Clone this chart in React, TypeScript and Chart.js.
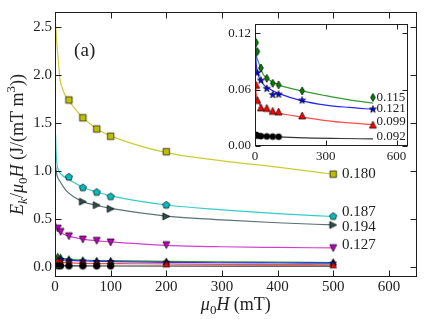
import React, { useEffect, useRef } from 'react';
import { Chart, registerables } from 'chart.js';

Chart.register(...registerables);

const FONT = '"Liberation Serif", "DejaVu Serif", serif';
const TEXT = '#222';

// ---------- main axes ----------
const mainXTicks = [0, 100, 200, 300, 400, 500, 600];
const mainYTicks = [0, 0.5, 1.0, 1.5, 2.0, 2.5];

const yellowX = [25, 50, 75, 100, 200, 500];
const yellowY = [1.739, 1.553, 1.437, 1.361, 1.2, 0.966];
const yellowFitX = [1.5, 3, 6, 9, 12, 18, 25, 50, 75, 100, 200, 300, 400, 500];
const yellowFitY = [2.5, 2.35, 2.15, 1.95, 1.88, 1.79, 1.73, 1.555, 1.44, 1.365, 1.19, 1.105, 1.04, 0.965];

const cyanX = [25, 50, 75, 100, 200, 500];
const cyanY = [0.935, 0.825, 0.777, 0.732, 0.643, 0.526];
const cyanFitX = [1, 2, 3, 6, 12, 25, 50, 75, 100, 200, 300, 400, 500];
const cyanFitY = [1.38, 1.2, 1.1, 1.01, 0.96, 0.91, 0.83, 0.78, 0.74, 0.645, 0.595, 0.555, 0.525];

const slateX = [50, 75, 100, 200, 500];
const slateY = [0.68, 0.643, 0.605, 0.526, 0.437];
const slateFitX = [1, 3, 5, 9, 21, 50, 75, 100, 200, 300, 400, 500];
const slateFitY = [1.05, 0.97, 0.93, 0.89, 0.79, 0.68, 0.64, 0.61, 0.53, 0.49, 0.46, 0.437];

const magentaX = [5, 10, 25, 50, 75, 100, 200, 500];
const magentaY = [0.4, 0.365, 0.32, 0.285, 0.272, 0.255, 0.227, 0.196];
const magentaFitX = [0.5, 3, 5, 10, 25, 50, 100, 200, 300, 400, 500];
const magentaFitY = [0.47, 0.42, 0.395, 0.36, 0.32, 0.29, 0.26, 0.225, 0.21, 0.203, 0.198];

const mainLabels = ['0.180', '0.187', '0.194', '0.127'];
const mainLabelY = [0.966, 0.574, 0.412, 0.224];
const labelAtX = 500;

// ---------- small series (inset and bottom of main) ----------
const insetXTicks = [0, 300, 600];
const insetYTicks = [0, 0.06, 0.12];

const greenX = [5, 10, 25, 50, 75, 100, 200, 500];
const greenY = [0.11, 0.1005, 0.083, 0.072, 0.0667, 0.065, 0.0586, 0.0516];
const greenFitX = [2, 5, 14, 35, 50, 100, 200, 300, 400, 500];
const greenFitY = [0.118, 0.1, 0.09, 0.076, 0.072, 0.065, 0.0586, 0.0535, 0.049, 0.0457];

const blueX = [10, 25, 50, 75, 100, 200, 500];
const blueY = [0.0778, 0.0698, 0.061, 0.0545, 0.0548, 0.0485, 0.039];
const blueFitX = [2, 5, 10, 35, 64, 100, 200, 300, 400, 500];
const blueFitY = [0.108, 0.088, 0.079, 0.0657, 0.0604, 0.056, 0.048, 0.0435, 0.041, 0.039];

const redX = [5, 10, 25, 50, 75, 100, 200, 500];
const redY = [0.065, 0.049, 0.041, 0.0405, 0.0374, 0.0367, 0.0325, 0.0227];
const redFitX = [2, 5, 10, 35, 120, 200, 300, 400, 500];
const redFitY = [0.068, 0.056, 0.05, 0.0395, 0.034, 0.0307, 0.027, 0.0245, 0.0227];

const blackX = [5, 10, 25, 50, 75, 100];
const blackY = [0.0118, 0.011, 0.0105, 0.0102, 0.01, 0.0099];
const blackFitX = [2, 100, 500];
const blackFitY = [0.012, 0.0097, 0.0075];

const insetLabels = ['0.115', '0.121', '0.099', '0.092'];
const insetLabelY = [0.0512, 0.0401, 0.0265, 0.0105];

type Shape = 'square' | 'circle' | 'pentagon' | 'triRight' | 'triDown' | 'triUp' | 'star' | 'thinDiamond';

function makeMarker(shape: Shape, fill: string, size: number): HTMLCanvasElement {
  const d = Math.ceil(size + 4);
  const c = document.createElement('canvas');
  c.width = d;
  c.height = d;
  const ctx = c.getContext('2d')!;
  const cx = d / 2, cy = d / 2, r = size / 2;
  const poly = (pts: number[][]) => {
    pts.forEach((p, i) => (i ? ctx.lineTo(cx + p[0], cy + p[1]) : ctx.moveTo(cx + p[0], cy + p[1])));
  };
  ctx.beginPath();
  if (shape === 'square') ctx.rect(cx - r, cy - r, 2 * r, 2 * r);
  else if (shape === 'circle') ctx.arc(cx, cy, r, 0, Math.PI * 2);
  else if (shape === 'pentagon') {
    const pts: number[][] = [];
    for (let i = 0; i < 5; i++) {
      const a = -Math.PI / 2 + (i * 2 * Math.PI) / 5;
      pts.push([r * Math.cos(a), r * Math.sin(a)]);
    }
    poly(pts);
  } else if (shape === 'star') {
    const pts: number[][] = [];
    for (let i = 0; i < 10; i++) {
      const a = -Math.PI / 2 + (i * Math.PI) / 5;
      const rr = i % 2 ? r * 0.4 : r;
      pts.push([rr * Math.cos(a), rr * Math.sin(a)]);
    }
    poly(pts);
  } else if (shape === 'triUp') poly([[0, -r], [r, r], [-r, r]]);
  else if (shape === 'triDown') poly([[0, r], [-r, -r], [r, -r]]);
  else if (shape === 'triRight') poly([[r, 0], [-r, r], [-r, -r]]);
  else if (shape === 'thinDiamond') poly([[0, -r], [r * 0.6, 0], [0, r], [-r * 0.6, 0]]);
  ctx.closePath();
  ctx.fillStyle = fill;
  ctx.fill();
  ctx.lineWidth = 0.7;
  ctx.strokeStyle = '#000';
  ctx.stroke();
  return c;
}

function pts(xs: number[], ys: number[]) {
  return xs.map((x, i) => ({ x, y: ys[i] }));
}

function fitDs(xs: number[], ys: number[], color: string) {
  return {
    type: 'line' as const,
    data: pts(xs, ys),
    borderColor: color,
    borderWidth: 1.2,
    pointRadius: 0,
    cubicInterpolationMode: 'monotone' as const,
    fill: false,
    order: 2,
  };
}

function markDs(xs: number[], ys: number[], marker: HTMLCanvasElement) {
  return {
    type: 'line' as const,
    data: pts(xs, ys),
    showLine: false,
    pointStyle: marker as any,
    pointRadius: 3,
    order: 1,
  };
}

type Seg = { t: string; it?: boolean; pos?: 'sub' | 'sup' };

function drawRich(ctx: CanvasRenderingContext2D, segs: Seg[], size: number, cx: number, base: number) {
  const fontFor = (s: Seg) => `${s.it ? 'italic ' : ''}${s.pos ? Math.round(size * 0.7) : size}px ${FONT}`;
  let total = 0;
  for (const s of segs) {
    ctx.font = fontFor(s);
    total += ctx.measureText(s.t).width;
  }
  let x = cx - total / 2;
  ctx.textAlign = 'left';
  ctx.textBaseline = 'alphabetic';
  for (const s of segs) {
    ctx.font = fontFor(s);
    const dy = s.pos === 'sub' ? size * 0.25 : s.pos === 'sup' ? -size * 0.4 : 0;
    ctx.fillText(s.t, x, base + dy);
    x += ctx.measureText(s.t).width;
  }
}

function frameTicksPlugin(id: string, len: number, fillWhite: boolean) {
  return {
    id,
    beforeDatasetsDraw(chart: any) {
      if (!fillWhite) return;
      const a = chart.chartArea;
      const ctx = chart.ctx;
      ctx.save();
      ctx.fillStyle = '#fff';
      ctx.fillRect(a.left, a.top, a.right - a.left, a.bottom - a.top);
      ctx.restore();
    },
    afterDatasetsDraw(chart: any) {
      const a = chart.chartArea;
      const ctx = chart.ctx;
      const L = Math.round(a.left) + 0.5, R = Math.round(a.right) - 0.5;
      const T = Math.round(a.top) + 0.5, B = Math.round(a.bottom) - 0.5;
      ctx.save();
      ctx.strokeStyle = '#1e1e1e';
      ctx.lineWidth = 1;
      ctx.beginPath();
      const xs = chart.scales.x;
      for (const t of xs.ticks) {
        const p = Math.round(xs.getPixelForValue(t.value)) + 0.5;
        ctx.moveTo(p, B); ctx.lineTo(p, B - len);
        ctx.moveTo(p, T); ctx.lineTo(p, T + len);
      }
      const ys = chart.scales.y;
      for (const t of ys.ticks) {
        const p = Math.round(ys.getPixelForValue(t.value)) + 0.5;
        ctx.moveTo(L, p); ctx.lineTo(L + len, p);
        ctx.moveTo(R, p); ctx.lineTo(R - len, p);
      }
      ctx.stroke();
      ctx.strokeRect(L, T, R - L, B - T);
      ctx.restore();
    },
  };
}

function labelPlugin(id: string, texts: string[], ys: number[], dx: number, size: number) {
  return {
    id,
    afterDraw(chart: any) {
      const ctx = chart.ctx;
      const xs = chart.scales.x, yS = chart.scales.y;
      ctx.save();
      ctx.fillStyle = TEXT;
      ctx.font = `${size}px ${FONT}`;
      ctx.textAlign = 'left';
      ctx.textBaseline = 'middle';
      texts.forEach((t, i) => {
        ctx.fillText(t, xs.getPixelForValue(labelAtX) + dx, yS.getPixelForValue(ys[i]));
      });
      ctx.restore();
    },
  };
}

const titlesPlugin = {
  id: 'titles',
  afterDraw(chart: any) {
    const ctx = chart.ctx;
    const a = chart.chartArea;
    ctx.save();
    ctx.fillStyle = TEXT;
    drawRich(ctx, [{ t: 'μ', it: true }, { t: '0', pos: 'sub' }, { t: 'H', it: true }, { t: ' (mT)' }], 18, (a.left + a.right) / 2, 309.5);
    ctx.translate(22.5, (a.top + a.bottom) / 2);
    ctx.rotate(-Math.PI / 2);
    drawRich(
      ctx,
      [
        { t: 'E', it: true },
        { t: 'k', it: true, pos: 'sub' },
        { t: '/' },
        { t: 'μ', it: true },
        { t: '0', pos: 'sub' },
        { t: 'H', it: true },
        { t: ' (J/(mT m' },
        { t: '3', pos: 'sup' },
        { t: '))' },
      ],
      18,
      0,
      0,
    );
    ctx.restore();
    ctx.save();
    ctx.fillStyle = TEXT;
    ctx.font = `19px ${FONT}`;
    ctx.textAlign = 'center';
    ctx.textBaseline = 'middle';
    ctx.fillText('(a)', a.left + 0.082 * (a.right - a.left), a.top + 0.1455 * (a.bottom - a.top));
    ctx.restore();
  },
};

function axis(min: number, max: number, tickVals: number[], fmt: (v: number) => string, size: number, pad: number, fit: (s: any) => void) {
  return {
    type: 'linear' as const,
    min,
    max,
    afterBuildTicks: (s: any) => {
      s.ticks = tickVals.map((v) => ({ value: v }));
    },
    afterFit: fit,
    grid: { display: false, drawTicks: false },
    border: { display: false },
    ticks: {
      callback: (v: any) => fmt(Number(v)),
      font: { family: FONT, size },
      color: TEXT,
      padding: pad,
      maxRotation: 0,
      autoSkip: false,
    },
  };
}

export default function App() {
  const mainRef = useRef<HTMLCanvasElement>(null);
  const insetRef = useRef<HTMLCanvasElement>(null);

  useEffect(() => {
    document.body.style.margin = '0';
    const lineAlpha = (c: string) => c;

    const mainDatasets: any[] = [
      fitDs(yellowFitX, yellowFitY, 'rgba(191,191,0,0.8)'),
      markDs(yellowX, yellowY, makeMarker('square', '#bfbf00', 6.5)),
      fitDs(cyanFitX, cyanFitY, 'rgba(0,191,191,0.8)'),
      markDs(cyanX, cyanY, makeMarker('pentagon', '#00bfbf', 7.5)),
      fitDs(slateFitX, slateFitY, 'rgba(47,79,79,0.8)'),
      markDs(slateX, slateY, makeMarker('triRight', '#2f4f4f', 7)),
      fitDs(magentaFitX, magentaFitY, 'rgba(191,0,191,0.75)'),
      markDs(magentaX, magentaY, makeMarker('triDown', '#bf00bf', 7)),
      fitDs(blackFitX, blackFitY, 'rgba(0,0,0,0.8)'),
      markDs(blackX, blackY, makeMarker('circle', '#000', 6.5)),
      fitDs(redFitX, redFitY, 'rgba(255,0,0,0.7)'),
      markDs(redX, redY, makeMarker('triUp', '#ff0000', 6.5)),
      fitDs(blueFitX, blueFitY, 'rgba(0,0,255,0.8)'),
      markDs(blueX, blueY, makeMarker('star', '#0000ff', 7)),
      fitDs(greenFitX, greenFitY, 'rgba(0,128,0,0.8)'),
      markDs(greenX, greenY, makeMarker('triUp', '#008000', 6.5)),
    ];

    const main = new Chart(mainRef.current!, {
      type: 'scatter',
      data: { datasets: mainDatasets },
      options: {
        responsive: false,
        animation: false,
        events: [],
        layout: { padding: { left: 0, top: 9, right: 8.3, bottom: 0 } },
        plugins: { legend: { display: false }, tooltip: { enabled: false } },
        scales: {
          x: axis(0, 650, mainXTicks, (v) => String(Math.round(v)), 15, 1, (s: any) => { s.height = 42; }),
          y: axis(-0.105, 2.655, mainYTicks, (v) => v.toFixed(1), 15, 3, (s: any) => { s.width = 55; }),
        },
      },
      plugins: [frameTicksPlugin('mainFrame', 6, false), labelPlugin('mainLabels', mainLabels, mainLabelY, 8.7, 15), titlesPlugin],
    } as any);

    const insetDatasets: any[] = [
      fitDs(blackFitX, blackFitY, 'rgba(0,0,0,0.8)'),
      markDs(blackX, blackY, makeMarker('circle', '#000', 6)),
      fitDs(redFitX, redFitY, 'rgba(255,0,0,0.7)'),
      markDs(redX, redY, makeMarker('triUp', '#ff0000', 7)),
      fitDs(blueFitX, blueFitY, 'rgba(0,0,255,0.85)'),
      markDs(blueX, blueY, makeMarker('star', '#0000ff', 7.5)),
      fitDs(greenFitX, greenFitY, 'rgba(0,128,0,0.8)'),
      markDs(greenX, greenY, makeMarker('thinDiamond', '#008000', 8)),
    ];

    const inset = new Chart(insetRef.current!, {
      type: 'scatter',
      data: { datasets: insetDatasets },
      options: {
        responsive: false,
        animation: false,
        events: [],
        layout: { padding: { left: 0, top: 10.3, right: 6.7, bottom: 0 } },
        plugins: { legend: { display: false }, tooltip: { enabled: false } },
        scales: {
          x: axis(0, 650, insetXTicks, (v) => String(Math.round(v)), 13, 3, (s: any) => { s.height = 21; }),
          y: axis(0, 0.13, insetYTicks, (v) => v.toFixed(2), 13, 4, (s: any) => { s.width = 40; }),
        },
      },
      plugins: [frameTicksPlugin('insetFrame', 5, true), labelPlugin('insetLabels', insetLabels, insetLabelY, 3.5, 13)],
    } as any);

    void lineAlpha;
    return () => {
      main.destroy();
      inset.destroy();
    };
  }, []);

  return (
    <div style={{ position: 'relative', width: 425, height: 319 }}>
      <canvas ref={mainRef} width={425} height={319} style={{ position: 'absolute', left: 0, top: 0 }} />
      <canvas ref={insetRef} width={200} height={155} style={{ position: 'absolute', left: 215, top: 12 }} />
    </div>
  );
}
